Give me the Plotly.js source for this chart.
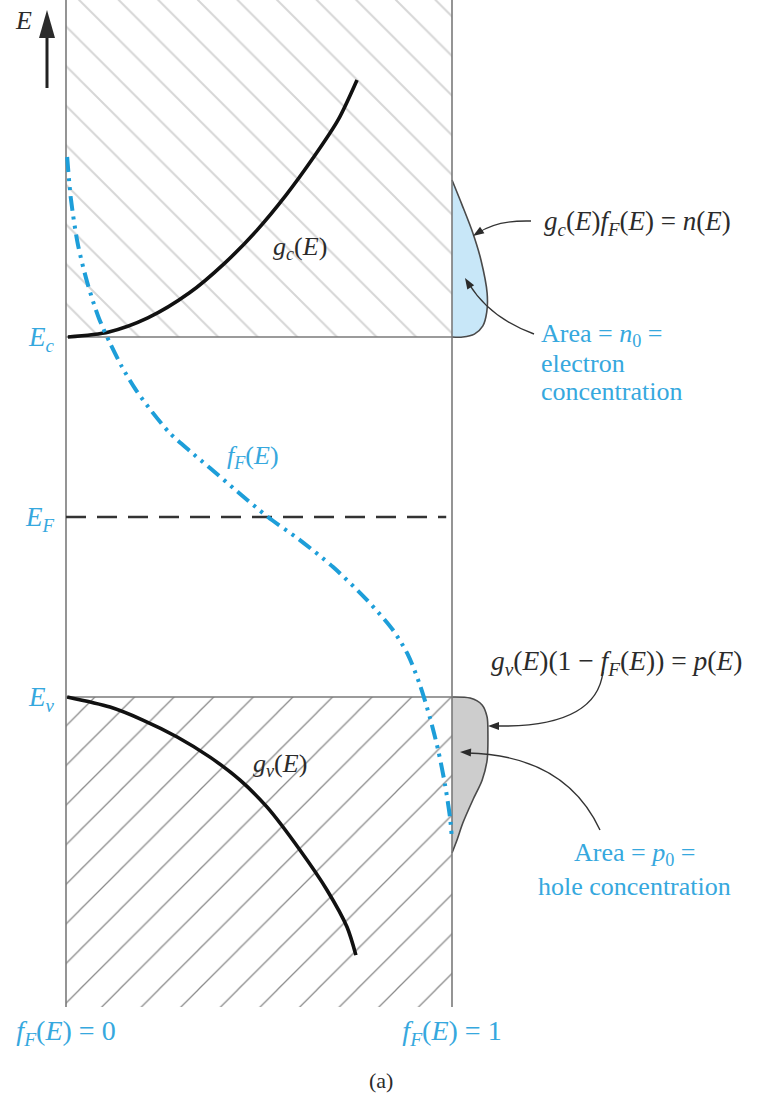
<!DOCTYPE html>
<html>
<head>
<meta charset="utf-8">
<script src="https://cdn.plot.ly/plotly-3.0.1.min.js"></script>
<style>html,body{margin:0;padding:0;background:#fff;}</style>
</head>
<body>
<div id="chart" style="width:760px;height:1096px;"></div>
<script>
// Energy scale: Ev = 0, Ec = 1, intrinsic Fermi level at midgap
const levelValues = [0, 0.5, 1];
const levelLabels = ['<i>E</i><sub><i>v</i></sub>', '<i>E</i><sub><i>F</i></sub>', '<i>E</i><sub><i>c</i></sub>'];
const energyExtent = [-0.861, 1.936];

// occupancy axis: f_F(E) runs from 0 (left line) to 1 (right line)
const occupancyTicks = [0, 1];
const occupancyLabels = ['<i>f</i><sub><i>F</i></sub>(<i>E</i>) = 0', '<i>f</i><sub><i>F</i></sub>(<i>E</i>) = 1'];

// Fermi–Dirac occupancy f_F(E)
const fermiF = [0.003, 0.013, 0.031, 0.057, 0.085, 0.114, 0.145, 0.181, 0.223, 0.269, 0.321, 0.373, 0.446, 0.523,
                0.606, 0.692, 0.780, 0.847, 0.886, 0.917, 0.943, 0.964, 0.982, 0.995, 1.000];
const fermiE = [1.500, 1.381, 1.256, 1.144, 1.053, 0.983, 0.917, 0.853, 0.792, 0.733, 0.683, 0.636, 0.569, 0.500,
                0.436, 0.361, 0.269, 0.186, 0.117, 0.033, -0.058, -0.147, -0.244, -0.336, -0.397];

// conduction-band density of states g_c(E)
const gcX = [0.005, 0.111, 0.212, 0.319, 0.412, 0.495, 0.570, 0.640, 0.705, 0.754];
const gcE = [1.000, 1.014, 1.053, 1.122, 1.206, 1.297, 1.394, 1.497, 1.603, 1.714];

// valence-band density of states g_v(E)
const gvX = [0.003, 0.114, 0.199, 0.288, 0.373, 0.451, 0.521, 0.606, 0.676, 0.728, 0.751];
const gvE = [0.000, -0.028, -0.064, -0.111, -0.167, -0.231, -0.306, -0.425, -0.536, -0.639, -0.717];

// electron distribution n(E) = g_c f_F, measured out from the f_F = 1 line
const nVal = [0.000, 0.026, 0.054, 0.075, 0.091, 0.090, 0.080, 0.058, 0.028, 0.000];
const nE   = [1.436, 1.367, 1.289, 1.214, 1.122, 1.069, 1.031, 1.008, 1.000, 1.000];

// hole distribution p(E) = g_v (1 - f_F), measured out from the f_F = 1 line
const pVal = [0.000, 0.047, 0.078, 0.091, 0.093, 0.091, 0.078, 0.054, 0.028, 0.013, 0.000];
const pE   = [0.000, -0.003, -0.022, -0.056, -0.100, -0.175, -0.231, -0.286, -0.350, -0.397, -0.433];

const W = 760, H = 1096;
const SERIF = '"Liberation Serif", "DejaVu Serif", serif';
const BLUE_TEXT = '#36a8de';
const BLUE_LINE = '#1d9ed9';
const DARK = '#2b2b2b';
const GREY = '#7a7a7a';
const TEXT_SIZE = 26;

const EC = levelValues[2], EV = levelValues[0], EF = levelValues[1];
const eTop = energyExtent[1], eBottom = energyExtent[0];

const traces = [];

// hatched conduction band (above Ec)
traces.push({
  x: [0, 1, 1, 0, 0], y: [EC, EC, eTop, eTop, EC],
  mode: 'none', fill: 'toself', fillcolor: 'rgba(0,0,0,0)',
  fillpattern: {shape: '\\', size: 28, solidity: 0.07, fgcolor: '#d6d6d6', bgcolor: 'rgba(0,0,0,0)'},
  hoverinfo: 'skip'
});
// hatched valence band (below Ev)
traces.push({
  x: [0, 1, 1, 0, 0], y: [EV, EV, eBottom, eBottom, EV],
  mode: 'none', fill: 'toself', fillcolor: 'rgba(0,0,0,0)',
  fillpattern: {shape: '/', size: 28, solidity: 0.045, fgcolor: '#8a8a8a', bgcolor: 'rgba(0,0,0,0)'},
  hoverinfo: 'skip'
});

// n(E) lobe
traces.push({
  x: nVal.map(v => 1 + v), y: nE,
  mode: 'lines', fill: 'toself', fillcolor: '#c8e7f8',
  line: {color: '#4a4a4a', width: 1.6, shape: 'spline', smoothing: 0.8},
  hoverinfo: 'skip'
});
// p(E) lobe
traces.push({
  x: pVal.map(v => 1 + v), y: pE,
  mode: 'lines', fill: 'toself', fillcolor: '#cdcdcd',
  line: {color: '#4a4a4a', width: 1.6, shape: 'spline', smoothing: 0.8},
  hoverinfo: 'skip'
});

// frame: f_F = 0 and f_F = 1 lines, band edges
occupancyTicks.forEach(f => traces.push({
  x: [f, f], y: energyExtent, mode: 'lines',
  line: {color: GREY, width: 1.6}, hoverinfo: 'skip'
}));
[EC, EV].forEach(e => traces.push({
  x: [0, 1], y: [e, e], mode: 'lines',
  line: {color: GREY, width: 1.6}, hoverinfo: 'skip'
}));
// Fermi level
traces.push({
  x: [0, 0.985], y: [EF, EF], mode: 'lines',
  line: {color: '#333', width: 2.6, dash: '20px,11px'}, hoverinfo: 'skip'
});

// densities of states
traces.push({
  x: gcX, y: gcE, mode: 'lines',
  line: {color: '#111', width: 3.6, shape: 'spline', smoothing: 0.8}, hoverinfo: 'skip'
});
traces.push({
  x: gvX, y: gvE, mode: 'lines',
  line: {color: '#111', width: 3.6, shape: 'spline', smoothing: 0.8}, hoverinfo: 'skip'
});

// Fermi–Dirac function
traces.push({
  x: fermiF, y: fermiE, mode: 'lines',
  line: {color: BLUE_LINE, width: 4, shape: 'spline', smoothing: 0.8, dash: '15px,6px,3px,6px,3px,6px'},
  hoverinfo: 'skip'
});

// helpers for placing labels in figure pixels
const px = v => v / W;
const py = v => 1 - v / H;
const label = (x, y, text, color, extra) => Object.assign({
  xref: 'paper', yref: 'paper', x: px(x), y: py(y), text: text,
  showarrow: false, xanchor: 'center', yanchor: 'middle',
  font: {family: SERIF, size: TEXT_SIZE, color: color || DARK}
}, extra || {});
const curve = (pts) =>
  // [x0,y0, cx,cy, x1,y1] in figure pixels -> quadratic path in paper units
  'M ' + px(pts[0]) + ',' + py(pts[1]) +
  ' Q ' + px(pts[2]) + ',' + py(pts[3]) + ' ' + px(pts[4]) + ',' + py(pts[5]);
const arrowTip = (tx, ty, dx, dy, len, half) => {
  // filled triangular head with its tip at (tx,ty), pointing along (dx,dy)
  const n = Math.hypot(dx, dy), ux = dx / n, uy = dy / n;
  const bx = tx - ux * len, by = ty - uy * len;
  const p1 = [bx - uy * half, by + ux * half], p2 = [bx + uy * half, by - ux * half];
  return {
    type: 'path', xref: 'paper', yref: 'paper',
    path: 'M ' + px(tx) + ',' + py(ty) + ' L ' + px(p1[0]) + ',' + py(p1[1]) +
          ' L ' + px(p2[0]) + ',' + py(p2[1]) + ' Z',
    fillcolor: '#2b2b2b', line: {width: 0}
  };
};
const leader = (pts) => ({
  type: 'path', xref: 'paper', yref: 'paper', path: curve(pts),
  line: {color: '#333', width: 1.4}
});

const annotations = [
  label(23, 20, '<i>E</i>'),
  label(300, 248, '<i>g</i><sub><i>c</i></sub>(<i>E</i>)'),
  label(280, 765, '<i>g</i><sub><i>v</i></sub>(<i>E</i>)'),
  label(253, 457, '<i>f</i><sub><i>F</i></sub>(<i>E</i>)', BLUE_TEXT),
  label(542, 223, '<i>g</i><sub><i>c</i></sub>(<i>E</i>)<i>f</i><sub><i>F</i></sub>(<i>E</i>) = <i>n</i>(<i>E</i>)', DARK,
        {xanchor: 'left', font: {family: SERIF, size: 27, color: DARK}}),
  label(539, 335, 'Area = <i>n</i><sub>0</sub> =', BLUE_TEXT, {xanchor: 'left'}),
  label(539, 363, 'electron', BLUE_TEXT, {xanchor: 'left'}),
  label(539, 391, 'concentration', BLUE_TEXT, {xanchor: 'left'}),
  label(489, 662, '<i>g</i><sub><i>v</i></sub>(<i>E</i>)(1 − <i>f</i><sub><i>F</i></sub>(<i>E</i>)) = <i>p</i>(<i>E</i>)', DARK,
        {xanchor: 'left', font: {family: SERIF, size: 27.5, color: DARK}}),
  label(634, 854, 'Area = <i>p</i><sub>0</sub> =', BLUE_TEXT),
  label(634, 886, 'hole concentration', BLUE_TEXT),
  label(381, 1080, '(a)', DARK, {font: {family: SERIF, size: 22, color: DARK}})
];

const shapes = [
  // energy axis arrow
  {type: 'line', xref: 'paper', yref: 'paper', x0: px(47), y0: py(88), x1: px(47), y1: py(34),
   line: {color: '#222', width: 3}},
  arrowTip(47, 10, 0, -1, 28, 8),
  // leader lines from the captions, each ending in a small head
  leader([531, 221, 497, 220, 478, 233]),
  arrowTip(473, 236, -20, 13, 11, 4),
  leader([534, 334, 490, 318, 469, 284]),
  arrowTip(465, 278, -22, -36, 11, 4),
  leader([603, 672, 596, 728, 495, 726]),
  arrowTip(488, 726, -1, 0, 11, 4),
  leader([600, 830, 565, 755, 467, 753]),
  arrowTip(460, 752, -1, -0.05, 11, 4)
];

const layout = {
  width: W, height: H,
  margin: {l: 0, r: 0, t: 0, b: 0},
  paper_bgcolor: '#fff', plot_bgcolor: 'rgba(0,0,0,0)',
  showlegend: false,
  xaxis: {
    range: [-66 / 386, 694 / 386], domain: [0, 1],
    anchor: 'free', position: 1 - 1007 / H,
    showgrid: false, zeroline: false, showline: false, ticks: '',
    tickmode: 'array', tickvals: occupancyTicks, ticktext: occupancyLabels,
    tickfont: {family: SERIF, size: 28, color: BLUE_TEXT},
    ticklabelstandoff: 4, fixedrange: true
  },
  yaxis: {
    range: [(697 - 1096) / 360, 697 / 360], domain: [0, 1],
    anchor: 'free', position: 66 / W,
    showgrid: false, zeroline: false, showline: false, ticks: '',
    tickmode: 'array', tickvals: levelValues, ticktext: levelLabels,
    tickfont: {family: SERIF, size: 27, color: BLUE_TEXT},
    ticklabelstandoff: 12, fixedrange: true
  },
  annotations: annotations,
  shapes: shapes
};

Plotly.newPlot('chart', traces, layout, {displayModeBar: false, staticPlot: true});
</script>
</body>
</html>
